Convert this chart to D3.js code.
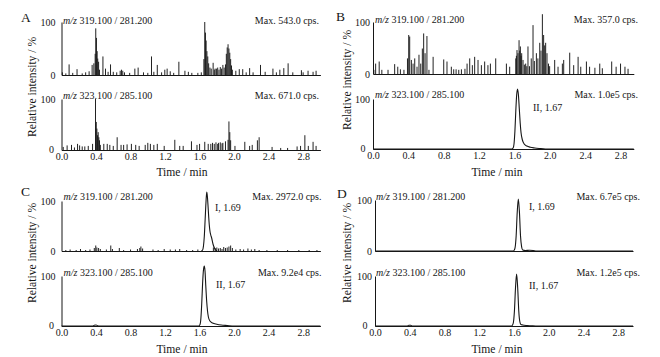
<!DOCTYPE html>
<html><head><meta charset="utf-8">
<script src="https://cdn.jsdelivr.net/npm/d3@7"></script>
<style>
html,body{margin:0;padding:0;background:#fff;}
svg{display:block;}
</style></head><body>
<svg id="c" width="660" height="357"></svg>
<script>
// ---------- data ----------
const xTicks = [0.0, 0.4, 0.8, 1.2, 1.6, 2.0, 2.4, 2.8];
const yTicks = [0, 100];
const panelLetters = ["A", "B", "C", "D"];
const transitions = ["319.100 / 281.200", "323.100 / 285.100"];
const maxLabels = [
  ["Max. 543.0 cps.", "Max. 671.0 cps."],
  ["Max. 357.0 cps.", "Max. 1.0e5 cps."],
  ["Max. 2972.0 cps.", "Max. 9.2e4 cps."],
  ["Max. 6.7e5 cps.", "Max. 1.2e5 cps."]
];
const peakLabels = [
  [null, null],
  [null, "II, 1.67"],
  ["I, 1.69", "II, 1.67"],
  ["I, 1.69", "II, 1.67"]
];

// noise spikes: [time (min), relative intensity (%)]
const spikesA1 = [[0.01,5],[0.05,3],[0.088,20],[0.13,4],[0.18,11],[0.24,3],[0.28,5],[0.32,7],[0.355,19],[0.375,22],[0.39,40],[0.397,88],[0.405,70],[0.413,45],[0.42,31],[0.43,25],[0.44,10],[0.48,35],[0.51,12],[0.54,6],[0.568,20],[0.60,6],[0.64,5],[0.68,8],[0.695,10],[0.71,8],[0.73,5],[0.79,4],[0.85,12],[0.888,14],[0.95,5],[1.00,4],[1.043,35],[1.07,6],[1.11,19],[1.16,5],[1.197,10],[1.224,12],[1.26,7],[1.30,4],[1.36,25],[1.43,8],[1.47,6],[1.51,4],[1.58,4],[1.62,5],[1.65,30],[1.66,100],[1.668,80],[1.676,65],[1.685,45],[1.695,35],[1.705,22],[1.72,14],[1.735,12],[1.757,23],[1.77,10],[1.78,12],[1.795,12],[1.81,14],[1.825,10],[1.84,15],[1.855,12],[1.87,19],[1.885,14],[1.90,20],[1.91,40],[1.92,52],[1.93,58],[1.94,50],[1.95,42],[1.96,30],[1.97,18],[1.98,10],[2.02,8],[2.06,11],[2.10,11],[2.14,5],[2.18,13],[2.22,5],[2.306,19],[2.36,6],[2.45,12],[2.49,5],[2.53,10],[2.576,13],[2.626,22],[2.68,5],[2.78,9],[2.80,5],[2.857,8],[2.915,6],[2.95,8]];
const spikesA2 = [[0.02,6],[0.065,9],[0.116,10],[0.15,5],[0.186,12],[0.21,9],[0.24,7],[0.27,7],[0.31,8],[0.36,12],[0.394,100],[0.403,55],[0.41,42],[0.418,29],[0.425,35],[0.433,25],[0.44,19],[0.45,10],[0.49,12],[0.53,12],[0.56,10],[0.60,8],[0.645,25],[0.69,10],[0.72,10],[0.76,11],[0.81,12],[0.86,10],[0.90,8],[0.97,10],[1.00,14],[1.03,12],[1.07,10],[1.11,12],[1.19,8],[1.313,20],[1.37,8],[1.41,8],[1.506,17],[1.57,10],[1.60,12],[1.66,16],[1.70,12],[1.73,12],[1.75,14],[1.77,12],[1.79,15],[1.81,12],[1.82,14],[1.84,15],[1.86,13],[1.87,14],[1.90,17],[1.93,20],[1.94,56],[1.95,35],[1.96,19],[2.01,8],[2.124,16],[2.18,8],[2.21,10],[2.27,19],[2.29,25],[2.44,6],[2.54,4],[2.62,4],[2.73,7],[2.77,8],[2.82,29],[2.86,8],[2.915,16],[2.95,8]];
const spikesB1 = [[0.01,8],[0.03,20],[0.07,24],[0.10,8],[0.17,8],[0.245,19],[0.28,14],[0.31,9],[0.35,8],[0.39,30],[0.404,75],[0.415,72],[0.434,27],[0.453,20],[0.472,30],[0.498,14],[0.52,37],[0.54,20],[0.558,49],[0.573,78],[0.589,40],[0.61,73],[0.633,8],[0.68,33],[0.80,28],[0.837,24],[0.886,14],[0.913,9],[0.94,9],[0.97,8],[1.00,9],[1.04,10],[1.064,20],[1.094,30],[1.124,17],[1.15,33],[1.188,27],[1.226,17],[1.263,24],[1.30,17],[1.328,20],[1.388,30],[1.509,20],[1.546,14],[1.615,30],[1.622,35],[1.629,46],[1.64,40],[1.652,65],[1.66,45],[1.667,53],[1.675,35],[1.682,40],[1.697,27],[1.712,18],[1.727,20],[1.74,15],[1.753,53],[1.77,15],[1.79,30],[1.81,94],[1.825,25],[1.848,40],[1.865,30],[1.886,60],[1.90,45],[1.916,115],[1.93,75],[1.942,55],[1.953,60],[1.968,40],[1.985,20],[1.998,15],[2.055,27],[2.093,14],[2.142,20],[2.157,27],[2.225,41],[2.27,17],[2.32,33],[2.35,14],[2.414,24],[2.45,14],[2.51,12],[2.565,20],[2.594,11],[2.70,24],[2.75,14],[2.80,20],[2.85,14],[2.885,10]];
const spikesC1 = [[0.05,2],[0.10,3],[0.17,2],[0.22,4],[0.28,2],[0.33,3],[0.38,6],[0.397,11],[0.41,7],[0.43,6],[0.45,4],[0.52,3],[0.571,11],[0.59,4],[0.67,6],[0.72,2],[0.80,3],[0.88,4],[0.907,6],[0.92,9],[0.94,5],[1.06,3],[1.12,2],[1.19,4],[1.26,3],[1.32,3],[1.37,4],[1.45,2],[1.52,2],[1.58,3],[1.76,7],[1.78,6],[1.80,7],[1.82,5],[1.84,6],[1.86,4],[1.88,8],[1.90,6],[1.92,7],[1.94,9],[1.96,11],[1.98,6],[2.02,3],[2.07,4],[2.11,3],[2.16,5],[2.20,3],[2.24,4],[2.29,2],[2.38,2],[2.50,2],[2.62,2],[2.75,2],[2.87,2],[2.96,2]];

// smooth chromatographic peaks: [time (min), relative intensity (%)]
const peakB2 = [[0,0],[1.57,0],[1.585,2],[1.595,10],[1.605,35],[1.615,75],[1.625,108],[1.635,120],[1.645,108],[1.655,80],[1.665,52],[1.675,32],[1.69,18],[1.71,10],[1.74,6],[1.78,3.5],[1.83,2],[1.88,1],[1.95,0],[2.95,0]];
const peakC1 = [[1.62,0],[1.635,2],[1.645,10],[1.655,30],[1.665,65],[1.675,100],[1.683,118],[1.69,110],[1.697,93],[1.705,70],[1.712,53],[1.72,40],[1.728,33],[1.74,26],[1.757,13],[1.775,5],[1.80,0]];
const peakC2 = [[0,0],[0.36,0],[0.38,1.5],[0.40,2],[0.42,0.5],[0.44,0],[1.59,0],[1.605,3],[1.615,15],[1.625,45],[1.635,85],[1.645,112],[1.655,120],[1.663,110],[1.672,80],[1.682,50],[1.692,30],[1.702,18],[1.72,10],[1.75,6],[1.80,3.5],[1.85,2],[1.92,1],[2.0,0],[3.0,0]];
const peakD1 = [[0,0],[1.59,0],[1.60,1],[1.612,6],[1.625,30],[1.637,75],[1.65,102],[1.663,75],[1.675,30],[1.688,8],[1.70,2],[1.73,1],[1.78,1.5],[1.82,1],[1.86,0],[2.97,0]];
const peakD2 = [[0,0],[0.37,0],[0.39,1.5],[0.41,1.5],[0.43,0],[1.57,0],[1.58,1],[1.592,6],[1.605,30],[1.617,75],[1.63,104],[1.643,75],[1.655,30],[1.668,8],[1.68,3],[1.70,2],[1.75,1],[1.80,0.5],[1.85,0],[2.97,0]];

// ---------- layout ----------
const FONT = "'Liberation Serif','Times New Roman',Times,serif";
const INK = "#161616";
const layout = [
  { xr:[61.5,320.4], xmax:3.0, ypad:6, letter:[21,21.5], ylab:[33,87], tlab:[182,176], mzx:63, maxx:319,
    subs:[{y100:22,y0:75,ann:23.5,pk:null},{y100:99,y0:150,ann:98.5,pk:null}] },
  { xr:[373,633.8], xmax:2.95, ypad:3, letter:[336,20.5], ylab:[348,80], tlab:[497,176], mzx:375, maxx:638,
    subs:[{y100:22,y0:74,ann:22.5,pk:null},{y100:99,y0:149,ann:97.5,pk:[533,110.5]}] },
  { xr:[61.5,320.4], xmax:3.0, ypad:6, letter:[21,195.5], ylab:[33,253], tlab:[182,352.5], mzx:63.5, maxx:321.5,
    subs:[{y100:201,y0:251,ann:199.5,pk:[215,210.5]},{y100:276,y0:326,ann:275.5,pk:[216,287.5]}] },
  { xr:[375,633], xmax:2.97, ypad:3, letter:[337,197.5], ylab:[348,253], tlab:[497,352.5], mzx:376, maxx:640,
    subs:[{y100:200,y0:251,ann:199.5,pk:[529,209.5]},{y100:276,y0:326,ann:275.5,pk:[529,288.5]}] }
];
const spikeData = [[spikesA1, spikesA2],[spikesB1, null],[spikesC1, null],[null, null]];
const peakData = [[null, null],[null, peakB2],[peakC1, peakC2],[peakD1, peakD2]];

const svg = d3.select("#c").attr("font-family", FONT).attr("fill", INK);

layout.forEach((L, pi) => {
  const g = svg.append("g");
  const x = d3.scaleLinear().domain([0, L.xmax]).range(L.xr);

  g.append("text").attr("x", L.letter[0]).attr("y", L.letter[1])
    .attr("font-size", 13.5).text(panelLetters[pi]);

  g.append("text")
    .attr("transform", `translate(${L.ylab[0]},${L.ylab[1]}) rotate(-90)`)
    .attr("text-anchor", "middle").attr("dominant-baseline", "middle")
    .attr("font-size", 11.6).text("Relative intensity / %");

  g.append("text").attr("x", L.tlab[0]).attr("y", L.tlab[1])
    .attr("text-anchor", "middle").attr("font-size", 11.6).text("Time / min");

  L.subs.forEach((S, si) => {
    const y = d3.scaleLinear().domain([0, 100]).range([S.y0, S.y100]);
    const sg = g.append("g");

    const sp = spikeData[pi][si];
    if (sp) {
      sg.append("g").selectAll("line").data(sp).join("line")
        .attr("x1", d => x(d[0])).attr("x2", d => x(d[0]))
        .attr("y1", y(0)).attr("y2", d => y(d[1]))
        .attr("stroke", INK).attr("stroke-width", 0.95);
    }
    const pk = peakData[pi][si];
    if (pk) {
      sg.append("path").datum(pk)
        .attr("d", d3.line().x(d => x(d[0])).y(d => y(d[1])).curve(d3.curveMonotoneX))
        .attr("fill", "none").attr("stroke", INK).attr("stroke-width", 1.1);
    }

    // x axis
    const xa = sg.append("g").attr("transform", `translate(0,${y(0)})`)
      .call(d3.axisBottom(x).tickValues(si === 1 ? xTicks : []).tickSize(0).tickSizeOuter(0)
        .tickPadding(3).tickFormat(d3.format(".1f")));
    xa.attr("font-family", FONT).attr("font-size", 10);
    xa.select(".domain").attr("stroke", INK).attr("stroke-width", 1);
    xa.selectAll("text").attr("fill", INK);

    // y axis
    const ya = sg.append("g").attr("transform", `translate(${x(0)},0)`)
      .call(d3.axisLeft(y).tickValues(yTicks).tickSize(0).tickSizeOuter(0).tickPadding(L.ypad));
    ya.attr("font-family", FONT).attr("font-size", 10);
    ya.select(".domain").attr("stroke", INK).attr("stroke-width", 1);
    ya.selectAll("text").attr("fill", INK);
    if (si === 1) {
      // keep the bottom "0" clear of the "0.0" tick label
      ya.selectAll(".tick").filter(d => d === 0).select("text").attr("x", -7.5).attr("dy", "0.2em");
    }

    // annotations
    const t = sg.append("text").attr("x", L.mzx).attr("y", S.ann).attr("font-size", 10);
    t.append("tspan").attr("font-style", "italic").text("m/z");
    t.append("tspan").text(" " + transitions[si]);

    sg.append("text").attr("x", L.maxx).attr("y", S.ann).attr("text-anchor", "end")
      .attr("font-size", 10).text(maxLabels[pi][si]);

    if (peakLabels[pi][si] && S.pk) {
      sg.append("text").attr("x", S.pk[0]).attr("y", S.pk[1])
        .attr("font-size", 10).text(peakLabels[pi][si]);
    }
  });
});
</script>
</body></html>
